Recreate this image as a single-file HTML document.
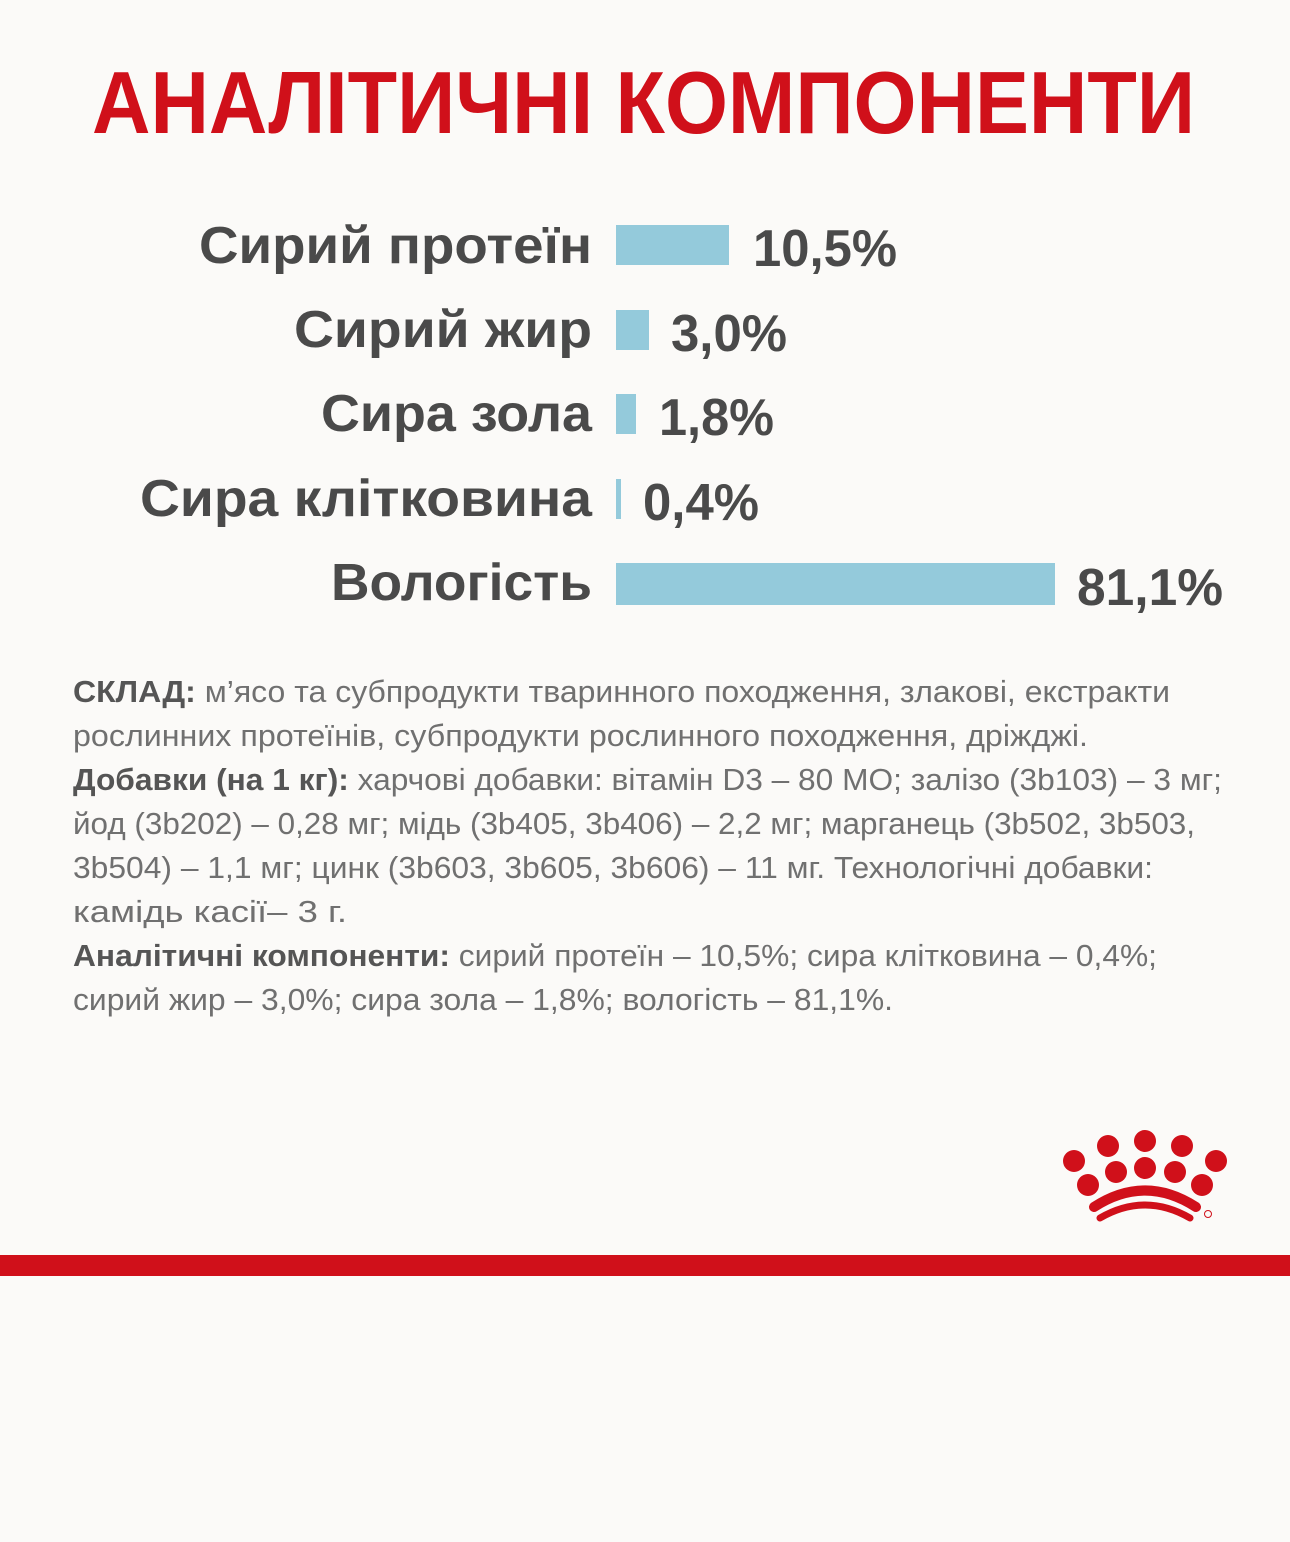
<!DOCTYPE html>
<html><head><meta charset="utf-8"><style>
html,body{margin:0;padding:0;background:#fbfaf8;}
svg{display:block}
</style></head><body>
<svg width="1290" height="1542" viewBox="0 0 1290 1542" xmlns="http://www.w3.org/2000/svg">
<rect width="1290" height="1542" fill="#fbfaf8"/>
<text x="92" y="133" font-family="Liberation Sans, sans-serif" font-weight="bold" font-size="88" fill="#d0101a" textLength="1103" lengthAdjust="spacingAndGlyphs">АНАЛІТИЧНІ КОМПОНЕНТИ</text>
<g font-family="Liberation Sans, sans-serif" font-weight="bold" font-size="52" fill="#4a4a4a" text-anchor="end">
<text x="592" y="263" textLength="393" lengthAdjust="spacingAndGlyphs">Сирий протеїн</text>
<text x="592" y="347" textLength="298" lengthAdjust="spacingAndGlyphs">Сирий жир</text>
<text x="592" y="431" textLength="271" lengthAdjust="spacingAndGlyphs">Сира зола</text>
<text x="592" y="516" textLength="452" lengthAdjust="spacingAndGlyphs">Сира клітковина</text>
<text x="592" y="600" textLength="261" lengthAdjust="spacingAndGlyphs">Вологість</text>
</g>
<g fill="#94cadb">
<rect x="616" y="225" width="113" height="40"/>
<rect x="616" y="310" width="33" height="40"/>
<rect x="616" y="394" width="20" height="40"/>
<rect x="616" y="479" width="5" height="40"/>
<rect x="616" y="563" width="439" height="42"/>
</g>
<g font-family="Liberation Sans, sans-serif" font-weight="bold" font-size="52" fill="#4a4a4a">
<text x="753" y="266" textLength="144" lengthAdjust="spacingAndGlyphs">10,5%</text>
<text x="671" y="351" textLength="116" lengthAdjust="spacingAndGlyphs">3,0%</text>
<text x="659" y="435" textLength="115" lengthAdjust="spacingAndGlyphs">1,8%</text>
<text x="643" y="520" textLength="116" lengthAdjust="spacingAndGlyphs">0,4%</text>
<text x="1077" y="605" textLength="146" lengthAdjust="spacingAndGlyphs">81,1%</text>
</g>
<g font-family="Liberation Sans, sans-serif" font-size="31" fill="#707070">
<text x="73" y="702" textLength="1097" lengthAdjust="spacingAndGlyphs"><tspan font-weight="bold" fill="#555">СКЛАД:</tspan> м’ясо та субпродукти тваринного походження, злакові, екстракти</text>
<text x="73" y="746" textLength="1015" lengthAdjust="spacingAndGlyphs">рослинних протеїнів, субпродукти рослинного походження, дріжджі.</text>
<text x="73" y="790" textLength="1149" lengthAdjust="spacingAndGlyphs"><tspan font-weight="bold" fill="#555">Добавки (на 1 кг):</tspan> харчові добавки: вітамін D3 – 80 МО; залізо (3b103) – 3 мг;</text>
<text x="73" y="834" textLength="1122" lengthAdjust="spacingAndGlyphs">йод (3b202) – 0,28 мг; мідь (3b405, 3b406) – 2,2 мг; марганець (3b502, 3b503,</text>
<text x="73" y="878" textLength="1080" lengthAdjust="spacingAndGlyphs">3b504) – 1,1 мг; цинк (3b603, 3b605, 3b606) – 11 мг. Технологічні добавки:</text>
<text x="73" y="922" textLength="274" lengthAdjust="spacingAndGlyphs">камідь касії– 3 г.</text>
<text x="73" y="966" textLength="1084" lengthAdjust="spacingAndGlyphs"><tspan font-weight="bold" fill="#555">Аналітичні компоненти:</tspan> сирий протеїн – 10,5%; сира клітковина – 0,4%;</text>
<text x="73" y="1010" textLength="820" lengthAdjust="spacingAndGlyphs">сирий жир – 3,0%; сира зола – 1,8%; вологість – 81,1%.</text>
</g>
<g fill="#d0101a">
<circle cx="1074" cy="1161" r="11"/><circle cx="1108" cy="1146" r="11"/><circle cx="1145" cy="1141" r="11"/><circle cx="1182" cy="1146" r="11"/><circle cx="1216" cy="1161" r="11"/>
<circle cx="1088" cy="1185" r="11"/><circle cx="1116" cy="1172" r="11"/><circle cx="1145" cy="1168" r="11"/><circle cx="1175" cy="1172" r="11"/><circle cx="1202" cy="1185" r="11"/>
</g>
<g fill="none" stroke="#d0101a" stroke-linecap="round">
<path d="M1094 1207 Q1145 1174 1196 1207" stroke-width="10"/>
<path d="M1100 1218 Q1145 1192 1190 1218" stroke-width="7"/>
</g>
<circle cx="1208" cy="1214" r="3.5" fill="none" stroke="#d0101a" stroke-width="1"/>
<rect x="0" y="1255" width="1290" height="21" fill="#d0101a"/>
</svg>
</body></html>
